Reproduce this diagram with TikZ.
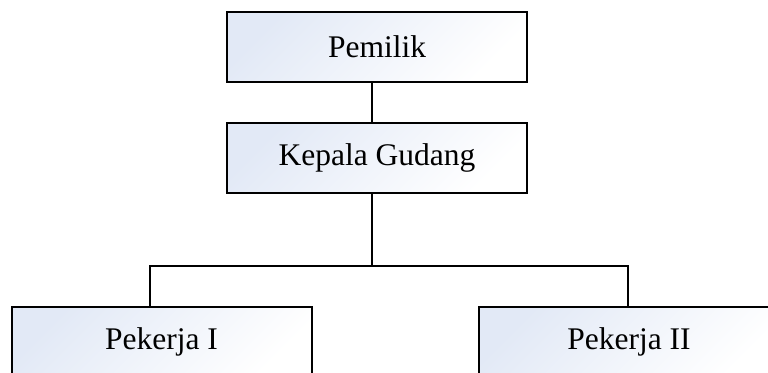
\documentclass[tikz,border=0pt]{standalone}
\usepackage{fontspec}
\setmainfont{Liberation Serif}
\usetikzlibrary{positioning,calc}
\definecolor{boxfill}{RGB}{226,233,246}

\begin{document}
\begin{tikzpicture}[
    x=1pt, y=-1pt,
    box/.style={draw, line width=2pt, minimum width=300pt, minimum height=70pt,
      inner sep=0pt, shading=axis, top color=boxfill, bottom color=white,
      shading angle=45, font=\fontsize{31.5}{36}\selectfont},
    link/.style={line width=2pt, color=black}
  ]
    \useasboundingbox (0,0) rectangle (768,372);

    % Row 1: owner
    \node[box] (pemilik) at (377,46.5) {Pemilik};

    % Row 2: head of warehouse
    \node[box] (kepala) at (377,157.5) {Kepala Gudang};

    % Row 3: workers
    \node[box] (pekerja1) at (161.5,342) {Pekerja I};
    \node[box] (pekerja2) at (629,342) {Pekerja II};

    % Links
    \draw[link] ([xshift=-5pt]pemilik.south) -- ([xshift=-5pt]kepala.north);
    \draw[link] ([xshift=-5pt]kepala.south) -- ++(0,72.5) coordinate (bus);
    \draw[link] ([xshift=-11.5pt]pekerja1.north) |- (bus) -| ([xshift=-1pt]pekerja2.north);
  \end{tikzpicture}
\end{document}
